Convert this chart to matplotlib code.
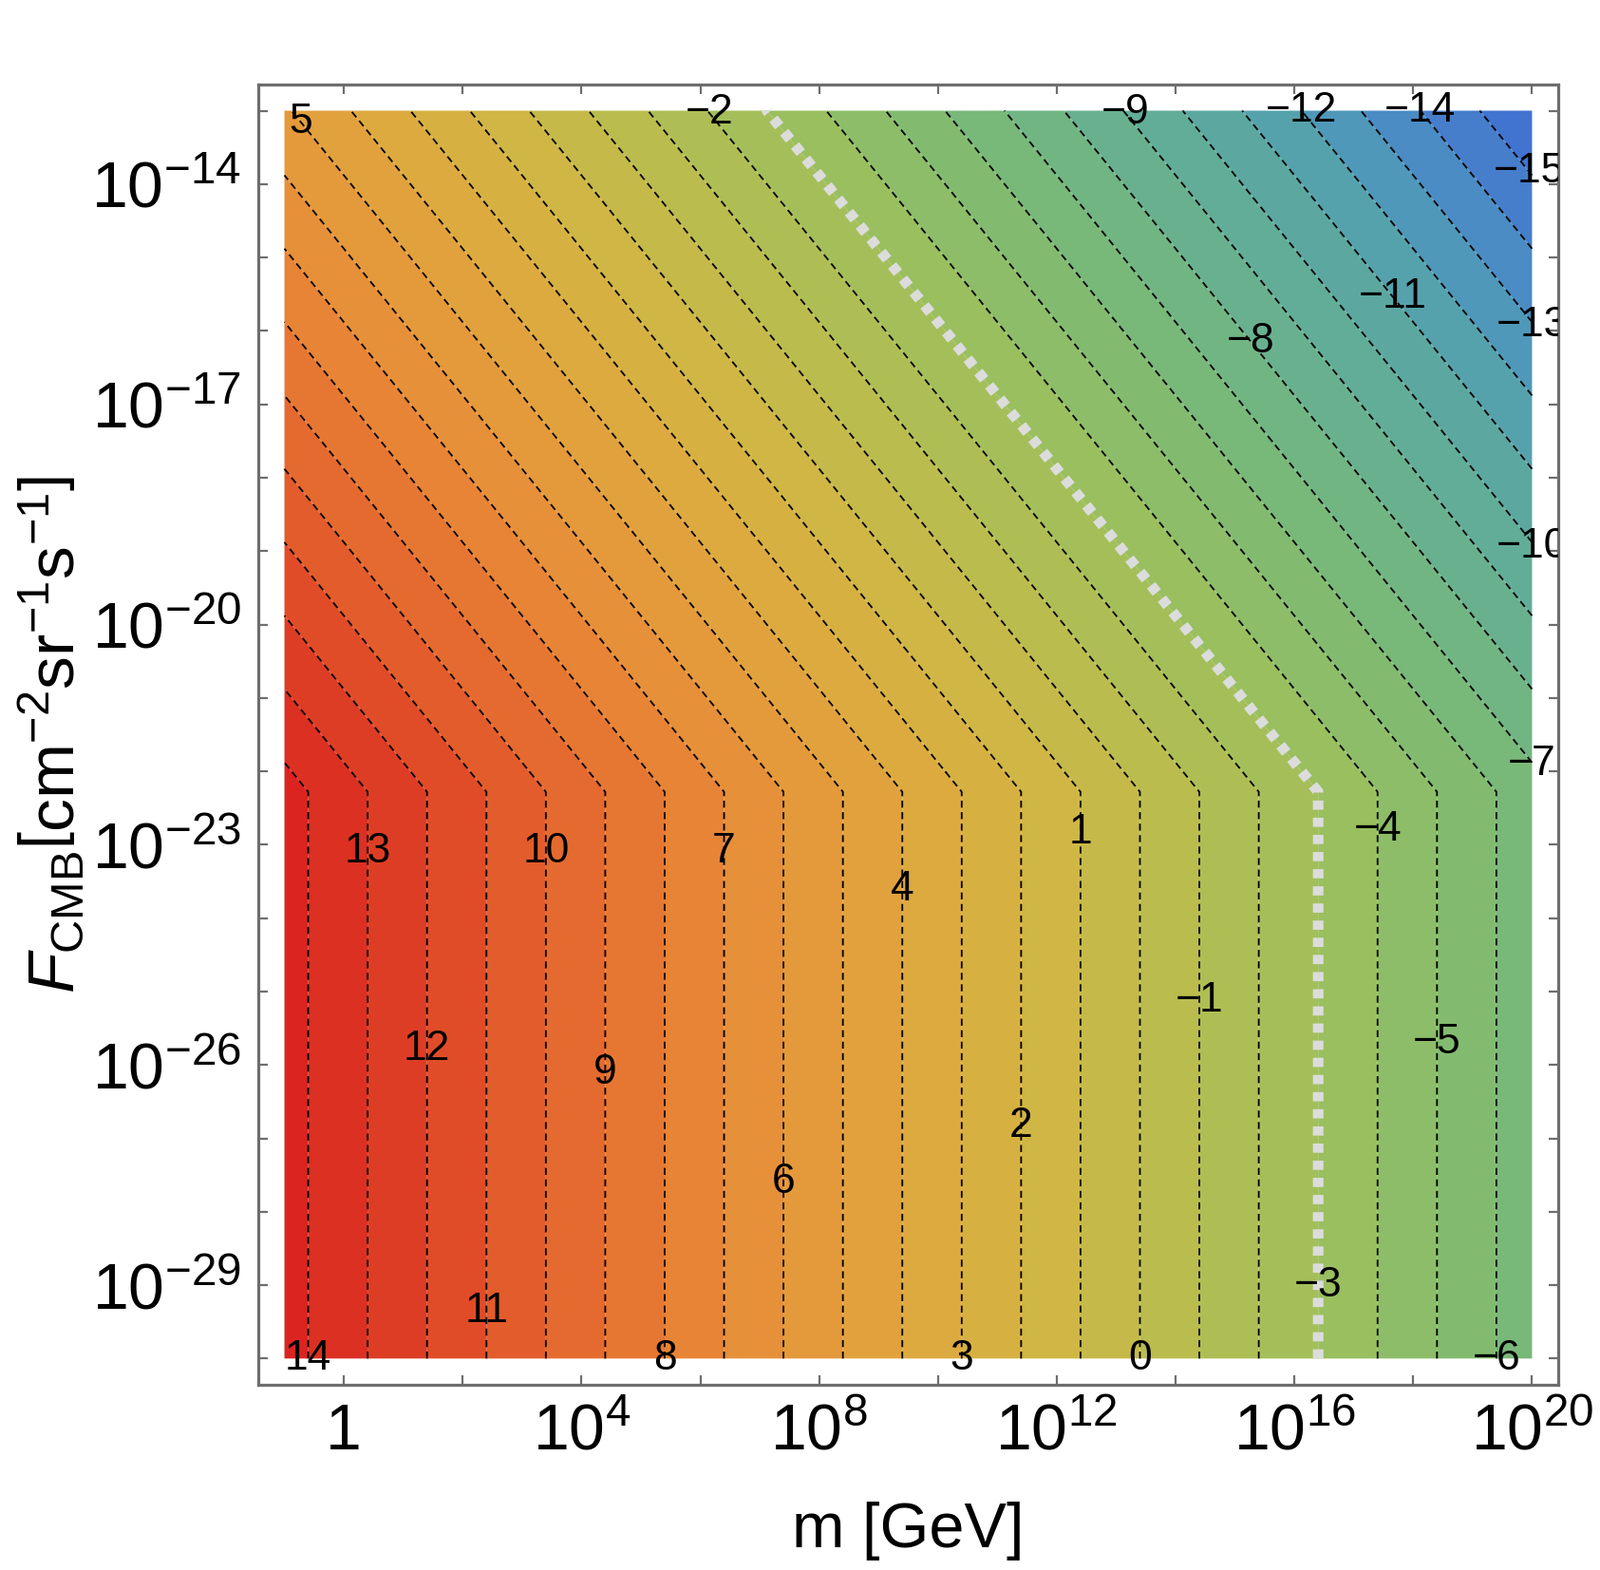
import numpy as np
import matplotlib
matplotlib.use("Agg")
import matplotlib.pyplot as plt
from matplotlib import ticker
from matplotlib.colors import LinearSegmentedColormap, Normalize

plt.rcParams["font.family"] = ["Liberation Sans", "DejaVu Sans"]
plt.rcParams["mathtext.fontset"] = "custom"
plt.rcParams["mathtext.rm"] = "Liberation Sans"
plt.rcParams["mathtext.it"] = "Liberation Sans:italic"
plt.rcParams["mathtext.bf"] = "Liberation Sans:bold"
plt.rcParams["lines.scale_dashes"] = False

# plotted region, log10 units
logm_range = [-1, 20]
logF_range = [-30, -13]

# surface: z = min(z_flat, z_tilt - log F) - log m
z_flat = 13.4
z_tilt = -8.88

fill_levels = np.arange(-16, 16)
line_levels = np.arange(-15, 15)
gray_level = -3

# one label per contour, placed at the given log F on that contour
label_levels = [5, -2, -9, -12, -14, -15, -11, -8, -13, -10, -7,
                13, 10, 7, 1, -4, 4, -1, 12, 9, -5, 2, 6, -3, 11,
                14, 8, 3, 0, -6]
label_logF = [-13.15, -13.03, -13.03, -13.0, -13.0, -13.83, -15.54, -16.14,
              -15.92, -18.94, -21.9, -23.09, -23.09, -23.09, -22.84, -22.8,
              -23.61, -25.12, -25.79, -26.11, -25.69, -26.83, -27.6, -29.01,
              -29.36, -30.0, -30.0, -30.0, -30.0, -30.0]

xtick_major = [0, 4, 8, 12, 16, 20]
xtick_minor = [2, 6, 10, 14, 18]
ytick_major = [-29, -26, -23, -20, -17, -14]

# colour ramp (z value, colour)
ramp_z = [-16, -15, -14, -13, -12, -11, -10, -9, -8, -7, -6, -5, -4, -3, -2,
          -1, 0, 1, 2, 3, 4, 5, 6, 7, 8, 9, 10, 11, 12, 13, 14, 15]
ramp_c = ["#3f6ed3", "#4478ce", "#4886c7", "#4d93be", "#539fb2", "#59a6a6",
          "#5fab9c", "#66af92", "#6db388", "#74b67e", "#7dba74", "#88bc6b",
          "#93be63", "#9fbf5c", "#aabe56", "#b5bd51", "#c0bb4c", "#cab847",
          "#d3b443", "#daae40", "#dfa73e", "#e39e3c", "#e5953a", "#e78b37",
          "#e77f34", "#e67131", "#e4632d", "#e2552a", "#df4627", "#dd3723",
          "#dc2a21", "#da1f1f"]


def surface(lm, lF):
    return np.minimum(z_flat, z_tilt - lF) - lm


zmin, zmax = ramp_z[0], ramp_z[-1]
cmap = LinearSegmentedColormap.from_list(
    "mma", [((z - zmin) / (zmax - zmin), c) for z, c in zip(ramp_z, ramp_c)])
norm = Normalize(zmin, zmax)

lm = np.linspace(logm_range[0], logm_range[1], 1201)
lF = np.union1d(np.linspace(logF_range[0], logF_range[1], 1001), [z_tilt - z_flat])
LM, LF = np.meshgrid(lm, lF)
Z = surface(LM, LF)
M, F = 10.0 ** LM, 10.0 ** LF

fig = plt.figure(figsize=(16.85, 16.53), dpi=100)
ax = fig.add_axes([0.1614, 0.1180, 0.8125, 0.8282])

band_colors = [cmap(norm(l + 0.5)) for l in fill_levels[:-1]]
ax.contourf(M, F, Z, levels=fill_levels, colors=band_colors, antialiased=True)

black_levels = [l for l in line_levels if l != gray_level]
ax.contour(M, F, Z, levels=black_levels, colors="black", linewidths=1.3,
           linestyles=[(0, (5.3, 3.4))])
ax.contour(M, F, Z, levels=[gray_level], colors="#dcdcdc", linewidths=8,
           linestyles=[(0, (7.0, 6.0))])

for lev, yF in zip(label_levels, label_logF):
    xm = float(surface(0.0, yF)) - lev
    xm = min(max(xm, logm_range[0]), logm_range[1])
    txt = str(lev).replace("-", "\u2212")
    ax.text(10.0 ** xm, 10.0 ** yF, txt, fontsize=32, ha="center",
            va="center", clip_on=True, zorder=5)

pad_x = 0.021 * (logm_range[1] - logm_range[0])
pad_y = 0.021 * (logF_range[1] - logF_range[0])
ax.set_xscale("log")
ax.set_yscale("log")
ax.set_xlim(10.0 ** (logm_range[0] - pad_x), 10.0 ** (logm_range[1] + pad_x))
ax.set_ylim(10.0 ** (logF_range[0] - pad_y), 10.0 ** (logF_range[1] + pad_y))

ax.xaxis.set_major_locator(ticker.FixedLocator([10.0 ** e for e in xtick_major]))
ax.xaxis.set_minor_locator(ticker.FixedLocator([10.0 ** e for e in xtick_minor]))
ax.xaxis.set_major_formatter(ticker.FixedFormatter(
    ["1" if e == 0 else r"$10^{%d}$" % e for e in xtick_major]))
ax.xaxis.set_minor_formatter(ticker.NullFormatter())

ytick_minor = [e for e in range(logF_range[0], logF_range[1] + 1) if e not in ytick_major]
ax.yaxis.set_major_locator(ticker.FixedLocator([10.0 ** e for e in ytick_major]))
ax.yaxis.set_minor_locator(ticker.FixedLocator([10.0 ** e for e in ytick_minor]))
ax.yaxis.set_major_formatter(ticker.FixedFormatter(
    [r"$10^{%d}$" % e for e in ytick_major]))
ax.yaxis.set_minor_formatter(ticker.NullFormatter())

frame = "#6e6e6e"
for s in ax.spines.values():
    s.set_color(frame)
    s.set_linewidth(2.3)
ax.tick_params(which="both", direction="in", top=True, right=True,
               length=7.5, width=1.6, color=frame, labelsize=49,
               labelcolor="black")
ax.tick_params(axis="x", pad=13)
ax.tick_params(axis="y", pad=13)

ax.set_xlabel("m [GeV]", fontsize=48)
ax.xaxis.set_label_coords(0.5, -0.09)
ax.set_ylabel(r"$F_{\mathrm{CMB}}\left[\mathrm{cm}^{-2}\mathrm{sr}^{-1}\mathrm{s}^{-1}\right]$",
              fontsize=50)
ax.yaxis.set_label_coords(-0.131, 0.5)

fig.savefig("out.png", dpi=100)
